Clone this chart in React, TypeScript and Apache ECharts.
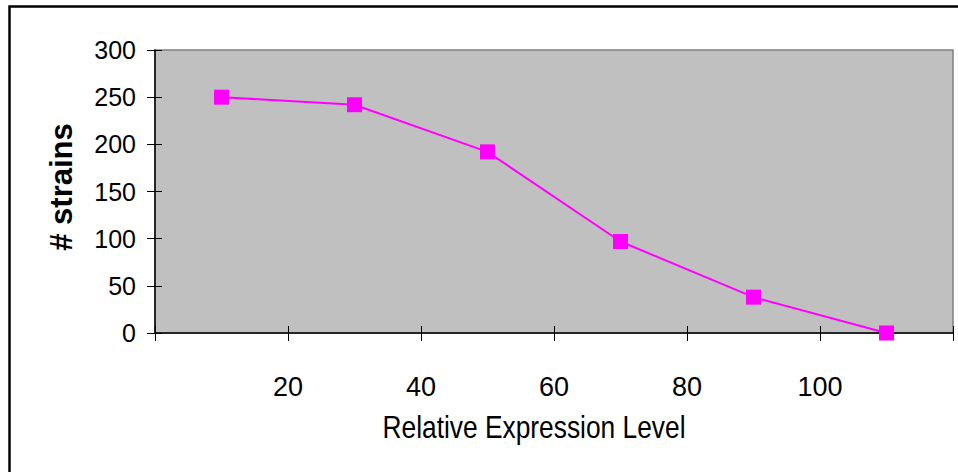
import React, { useEffect, useRef } from 'react';
import * as echarts from 'echarts';

const expressionLevels = [10, 30, 50, 70, 90, 110];
const strainCounts = [250, 242, 192, 97, 38, 0];
const xLabelValues = [20, 40, 60, 80, 100];
const xTitle = 'Relative Expression Level';
const yTitle = '# strains';

export default function App() {
  const ref = useRef<HTMLDivElement>(null);
  useEffect(() => {
    document.body.style.margin = '0';
    const chart = echarts.init(ref.current!, null, { renderer: 'svg' });
    const sans = "'Liberation Sans', Arial, sans-serif";
    const tickStyle = { color: '#000', width: 1 };
    chart.setOption({
      animation: false,
      backgroundColor: '#ffffff',
      grid: {
        left: 155, top: 50, right: 5, bottom: 139,
        show: true, backgroundColor: '#C0C0C0', borderColor: '#808080', borderWidth: 1.5,
      },
      xAxis: [
        {
          type: 'value', min: 0, max: 120, interval: 20, position: 'bottom',
          axisLine: { show: true, onZero: false, lineStyle: { color: '#000', width: 1.5 } },
          axisTick: { show: true, length: 8, lineStyle: tickStyle },
          splitLine: { show: false },
          axisLabel: {
            margin: 40, fontSize: 27, fontFamily: sans, color: '#000',
            showMinLabel: true, showMaxLabel: true,
            formatter: (v: number) => (xLabelValues.includes(v) ? String(v) : ''),
          },
        },
        {
          type: 'value', min: 0, max: 120, interval: 20, position: 'bottom', offset: 0,
          axisLine: { show: false, onZero: false },
          axisTick: { show: true, inside: true, length: 7, lineStyle: tickStyle },
          splitLine: { show: false },
          axisLabel: { show: false },
        },
      ],
      yAxis: [
        {
          type: 'value', min: 0, max: 300, interval: 50, position: 'left',
          axisLine: { show: true, onZero: false, lineStyle: { color: '#000', width: 1.5 } },
          axisTick: { show: true, length: 8, lineStyle: tickStyle },
          splitLine: { show: false },
          axisLabel: { margin: 19, fontSize: 25, fontFamily: sans, color: '#000' },
        },
        {
          type: 'value', min: 0, max: 300, interval: 50, position: 'left', offset: 0,
          axisLine: { show: false, onZero: false },
          axisTick: { show: true, inside: true, length: 7, lineStyle: tickStyle },
          splitLine: { show: false },
          axisLabel: { show: false },
        },
      ],
      series: [
        {
          type: 'line',
          xAxisIndex: 0, yAxisIndex: 0,
          data: expressionLevels.map((x, i) => [x, strainCounts[i]]),
          symbol: 'rect', symbolSize: 15,
          clip: false,
          itemStyle: { color: '#FF00FF' },
          lineStyle: { color: '#FF00FF', width: 2 },
        },
      ],
      graphic: [
        {
          type: 'rect', shape: { x: 9.5, y: 6.5, width: 980, height: 500 },
          style: { fill: 'none', stroke: '#000', lineWidth: 2.5 }, z: 10,
        },
        {
          type: 'text', x: 61, y: 187, rotation: Math.PI / 2,
          style: { text: yTitle, font: `bold 31px ${sans}`, fill: '#000', align: 'center', verticalAlign: 'middle' },
        },
        {
          type: 'text', x: 534, y: 427, scaleX: 0.85,
          style: { text: xTitle, font: `31px ${sans}`, fill: '#000', align: 'center', verticalAlign: 'middle' },
        },
      ],
    });
    return () => chart.dispose();
  }, []);
  return <div ref={ref} style={{ position: 'fixed', left: 0, top: 0, width: 958, height: 472 }} />;
}
